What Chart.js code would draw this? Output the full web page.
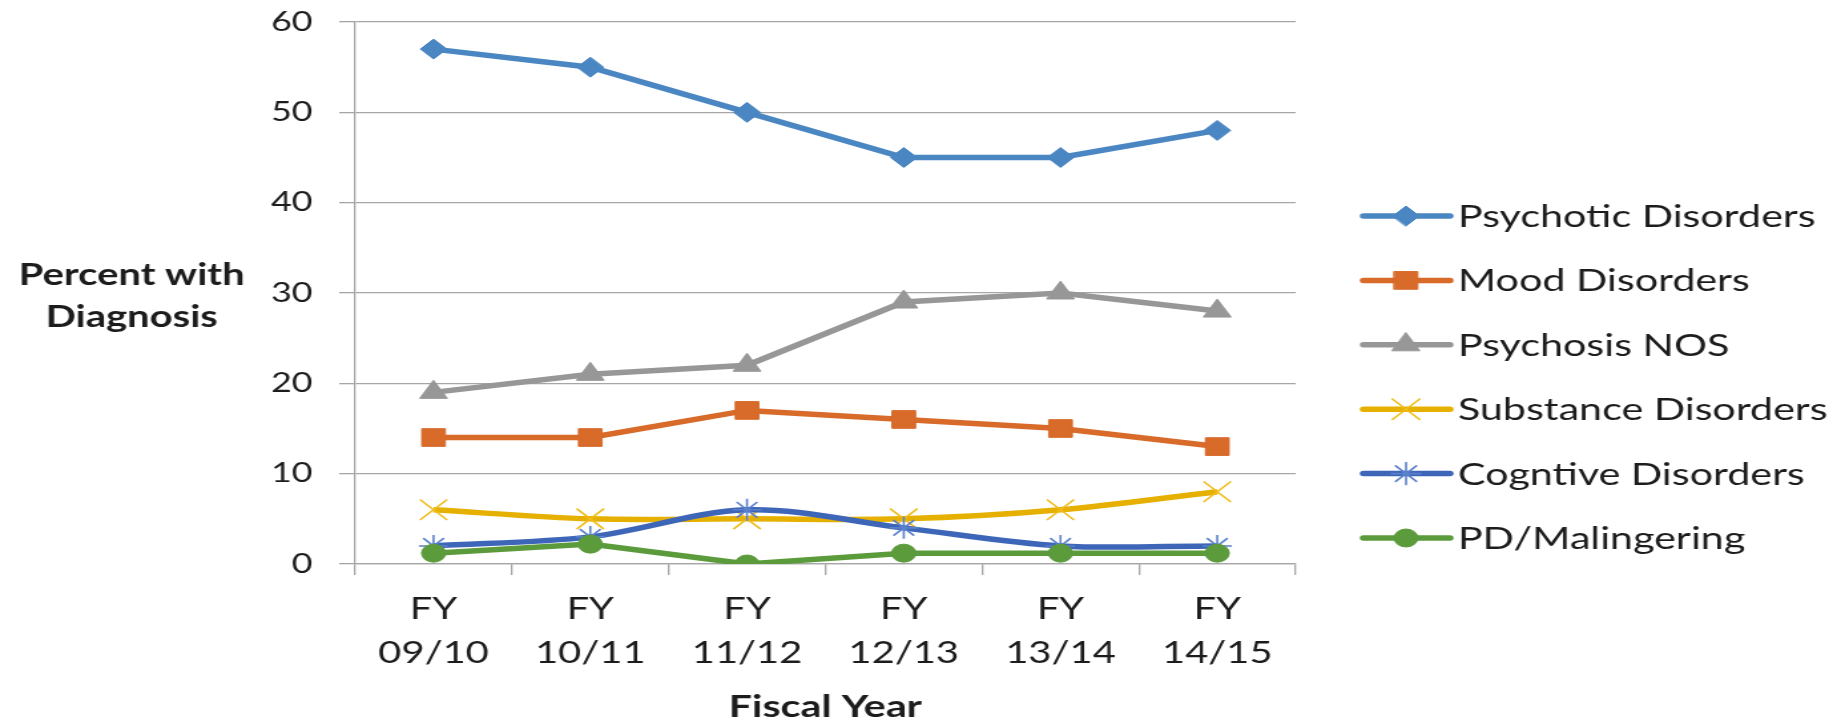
<!DOCTYPE html>
<html>
<head>
<meta charset="utf-8">
<script src="https://cdn.jsdelivr.net/npm/chart.js@4/dist/chart.umd.min.js"></script>
<style>
  html, body { margin: 0; padding: 0; background: #ffffff; overflow: hidden; }
  #wrap { position: absolute; left: 0; top: 0; width: 1381px; height: 723px;
          transform: scaleX(1.3302); transform-origin: 0 0; }
</style>
</head>
<body>
<div id="wrap"><canvas id="c"></canvas></div>
<script>
// ---- data ----
const categories = [["FY","09/10"],["FY","10/11"],["FY","11/12"],["FY","12/13"],["FY","13/14"],["FY","14/15"]];
const seriesNames = ["Psychotic Disorders","Mood Disorders","Psychosis NOS","Substance Disorders","Cogntive Disorders","PD/Malingering"];
const psychotic     = [57, 55, 50, 45, 45, 48];
const mood          = [14, 14, 17, 16, 15, 13];
const psychosisNOS  = [19, 21, 22, 29, 30, 28];
const substance     = [6, 5, 5, 5, 6, 8];
const cognitive     = [2, 3, 6, 4, 2, 2];
const pdMalingering = [1.2, 2.2, 0, 1.2, 1.2, 1.2];
const yTickValues   = [0, 10, 20, 30, 40, 50, 60];
const yTitleLines   = ["Percent with", "Diagnosis"];
const xTitle        = "Fiscal Year";

// ---- styles ----
const seriesValues = [psychotic, mood, psychosisNOS, substance, cognitive, pdMalingering];
const styles = [
  {color:'#4A86C2', pointColor:'#4A86C2', point:'rectRot',  r:10,   pbw:1,   tension:0},
  {color:'#D86A2A', pointColor:'#D86A2A', point:'rect',     r:12.5, pbw:1,   tension:0},
  {color:'#979797', pointColor:'#979797', point:'triangle', r:12,   pbw:1,   tension:0},
  {color:'#E6B000', pointColor:'#F0BC1C', point:'crossRot', r:14.5, pbw:1.6, tension:0.33},
  {color:'#3E66B8', pointColor:'#5A80CC', point:'star',     r:11,   pbw:1.6, tension:0.33},
  {color:'#5B9B3C', pointColor:'#5B9B3C', point:'circle',   r:9,    pbw:1,   tension:0}
];
const FONT = 'Lato';
const TEXT = '#1c1c1c';
const GRID = '#A6A6A6';
const LINE_W = 5.5;

const datasets = seriesNames.map((name, i) => ({
  label: name,
  data: seriesValues[i],
  borderColor: styles[i].color,
  backgroundColor: styles[i].pointColor,
  borderWidth: LINE_W,
  pointStyle: styles[i].point,
  pointRadius: styles[i].r,
  pointHoverRadius: styles[i].r,
  pointBackgroundColor: styles[i].pointColor,
  pointBorderColor: styles[i].pointColor,
  pointBorderWidth: styles[i].pbw,
  tension: styles[i].tension,
  fill: false,
  order: seriesNames.length - i
}));

const yTitlePlugin = {
  id: 'yTitleHoriz',
  afterDraw(chart) {
    const ctx = chart.ctx;
    ctx.save();
    ctx.fillStyle = TEXT;
    ctx.font = 'bold 30px ' + FONT;
    ctx.textAlign = 'center';
    ctx.textBaseline = 'middle';
    ctx.fillText(yTitleLines[0], 99, 275);
    ctx.fillText(yTitleLines[1], 99, 317);
    ctx.restore();
  }
};

const legendPlugin = {
  id: 'excelLegend',
  afterDraw(chart) {
    const ctx = chart.ctx;
    const x0 = 1025, x1 = 1090, xm = 1057, xt = 1096;
    const top = 216, gap = 64.4;
    seriesNames.forEach((name, i) => {
      const s = styles[i];
      const y = top + i * gap;
      ctx.save();
      ctx.strokeStyle = s.color;
      ctx.lineWidth = LINE_W;
      ctx.lineCap = 'round';
      ctx.beginPath(); ctx.moveTo(x0, y); ctx.lineTo(x1, y); ctx.stroke();
      ctx.fillStyle = s.pointColor;
      ctx.strokeStyle = s.pointColor;
      ctx.lineWidth = s.pbw;
      if (Chart.helpers && Chart.helpers.drawPoint) {
        Chart.helpers.drawPoint(ctx, {pointStyle: s.point, radius: s.r, rotation: 0, borderWidth: s.pbw}, xm, y);
      }
      ctx.fillStyle = TEXT;
      ctx.font = '31px ' + FONT;
      ctx.textAlign = 'left';
      ctx.textBaseline = 'middle';
      ctx.fillText(name, xt, y + 1);
      ctx.restore();
    });
  }
};

function build() {
  new Chart(document.getElementById('c'), {
    type: 'line',
    data: { labels: categories, datasets },
    options: {
      responsive: true,
      maintainAspectRatio: false,
      animation: false,
      events: [],
      layout: { padding: { left: 0, right: 407, top: 22, bottom: 0 } },
      plugins: { legend: { display: false }, tooltip: { enabled: false } },
      scales: {
        x: {
          type: 'category',
          offset: true,
          grid: { display: true, drawOnChartArea: false, drawTicks: true, tickLength: 11, offset: true, color: GRID, lineWidth: 1.3 },
          border: { display: true, color: GRID, width: 1.3 },
          ticks: { font: { family: FONT, size: 30, lineHeight: 1.45 }, color: TEXT, padding: 13, maxRotation: 0, autoSkip: false },
          title: { display: true, text: xTitle, font: { family: FONT, size: 31, weight: 'bold' }, color: TEXT, padding: { top: 0, bottom: -3 } },
          afterFit(s) { s.height = 159; }
        },
        y: {
          min: 0, max: 60,
          afterBuildTicks(s) { s.ticks = yTickValues.map(v => ({ value: v })); },
          grid: { color: GRID, lineWidth: 1.3, tickLength: 12, drawTicks: true },
          border: { display: true, color: GRID, width: 1.3 },
          ticks: { font: { family: FONT, size: 27 }, color: TEXT, padding: 20 },
          afterFit(s) { s.width = 267; s.paddingTop = 0; s.paddingBottom = 0; }
        }
      }
    },
    plugins: [yTitlePlugin, legendPlugin]
  });
}

if (document.fonts && document.fonts.load) {
  Promise.all([document.fonts.load('29px Lato'), document.fonts.load('bold 29px Lato')]).then(build, build);
} else { build(); }
</script>
</body>
</html>
